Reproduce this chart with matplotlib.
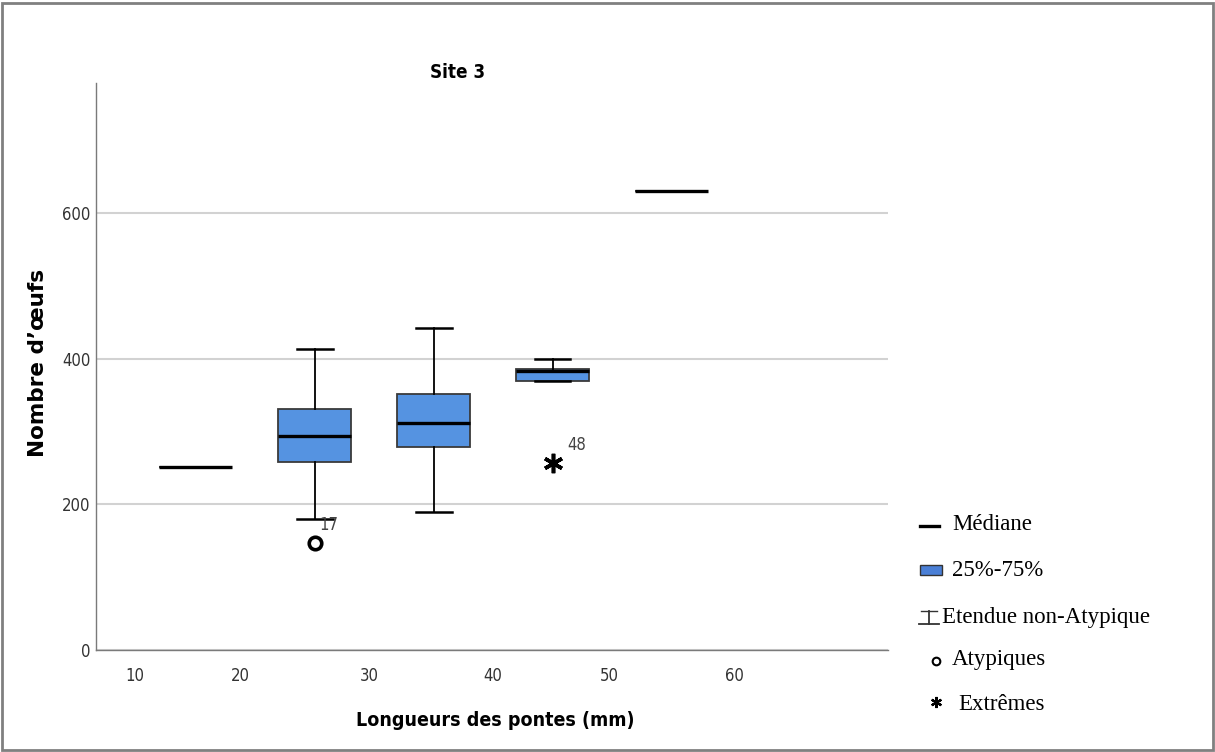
import matplotlib
matplotlib.use("Agg")
import matplotlib.pyplot as plt
from matplotlib.lines import Line2D
from matplotlib.patches import Rectangle
from matplotlib import font_manager

# Egg counts per clutch-length class (Site 3)
positions = [1, 2, 3, 4, 5]
whisker_low = [252, 180, 190, 370, 630]
q1 = [252, 258, 279, 370, 630]
median = [252, 294, 312, 383, 630]
q3 = [252, 331, 352, 386, 630]
whisker_high = [252, 413, 442, 400, 630]

# Unusual values: (position, value, case label)
outliers = [(2, 147, "17")]
extremes = [(4, 257, "48")]

tick_pos = [0.49, 1.37, 2.46, 3.50, 4.48, 5.53]
tick_labels = ["10", "20", "30", "40", "50", "60"]
y_ticks = [0, 200, 400, 600]

BLUE = "#5593e1"


def narrow(size, bold=False):
    return font_manager.FontProperties(family="DejaVu Sans", stretch="condensed",
                                       size=size, weight="bold" if bold else "normal")


SERIF = ["Liberation Serif", "DejaVu Serif"]

fig = plt.figure(figsize=(12.15, 7.52), dpi=100)
ax = fig.add_axes([96 / 1215, 1 - 650 / 752, (888 - 96) / 1215, (650 - 83) / 752])

stats = []
for i in range(len(positions)):
    stats.append(dict(med=median[i], q1=q1[i], q3=q3[i],
                      whislo=whisker_low[i], whishi=whisker_high[i], fliers=[]))

ax.bxp(stats, positions=positions, widths=0.615, patch_artist=True,
       showfliers=False, capwidths=0.3,
       boxprops=dict(facecolor=BLUE, edgecolor="#3a3a3a", linewidth=1.3),
       medianprops=dict(color="black", linewidth=2.4, solid_capstyle="butt"),
       whiskerprops=dict(color="black", linewidth=1.3),
       capprops=dict(color="black", linewidth=1.8), zorder=3)

for p, v, lab in outliers:
    ax.plot(p, v, marker="o", ms=9, mfc="white", mec="black", mew=2.6, zorder=4)
    ax.text(p + 0.04, v + 12, lab, fontproperties=narrow(12), color="#444444",
            ha="left", va="bottom")
for p, v, lab in extremes:
    ax.plot(p, v, marker=(6, 2, 0), ms=14, color="black", mew=2.6, zorder=4)
    ax.text(p + 0.12, v + 12, lab, fontproperties=narrow(12), color="#444444",
            ha="left", va="bottom")

ax.set_xlim(0.16, 6.82)
ax.set_ylim(0, 779)
ax.set_yticks(y_ticks)
ax.set_yticklabels([str(t) for t in y_ticks], fontproperties=narrow(12), color="#333333")
ax.set_xticks(tick_pos)
ax.set_xticklabels(tick_labels, fontproperties=narrow(12), color="#333333")
ax.tick_params(length=0, axis="y", pad=4)
ax.tick_params(length=0, axis="x", pad=12)
ax.yaxis.grid(True, color="#d2d2d2", linewidth=1.5, zorder=0)
ax.set_axisbelow(True)
for s in ["top", "right"]:
    ax.spines[s].set_visible(False)
for s in ["left", "bottom"]:
    ax.spines[s].set_color("#7a7a7a")
    ax.spines[s].set_linewidth(1.0)

fig.text(458 / 1215, 1 - 72 / 752, "Site 3", ha="center", va="center",
         fontproperties=narrow(13.5, bold=True))
fig.text(495 / 1215, 1 - 720 / 752, "Longueurs des pontes (mm)", ha="center",
         va="center", fontproperties=narrow(14, bold=True))
fig.text(38 / 1215, 1 - 363 / 752, "Nombre d’œufs", ha="center", va="center",
         rotation=90, fontsize=15.5, fontweight="bold", family="DejaVu Sans")


# Legend drawn in figure pixel space
def fx(x):
    return x / 1215


def fy(y):
    return 1 - y / 752


fig.add_artist(Line2D([fx(920), fx(939)], [fy(526), fy(526)], color="black", lw=2.4))
fig.add_artist(Rectangle((fx(920), fy(575)), 22 / 1215, 10 / 752,
                         facecolor="#4a7fd6", edgecolor="#333333", lw=1.0))
fig.add_artist(Line2D([fx(919), fx(939)], [fy(624), fy(624)], color="#333333", lw=1.3))
fig.add_artist(Line2D([fx(929), fx(929)], [fy(611), fy(624)], color="#333333", lw=1.3))
fig.add_artist(Line2D([fx(921), fx(937)], [fy(611), fy(611)], color="#333333", lw=1.0))
fig.add_artist(Line2D([fx(936)], [fy(661)], marker="o", ms=5.5, mfc="white",
                      mec="black", mew=1.5))
fig.add_artist(Line2D([fx(936)], [fy(702)], marker=(6, 2, 0), ms=8, color="black", mew=1.6))

leg_items = [(952, 524, "Médiane"), (952, 570, "25%-75%"),
             (942, 617, "Etendue non-Atypique"), (952, 660, "Atypiques"),
             (958, 704, "Extrêmes")]
for x, y, t in leg_items:
    fig.text(fx(x), fy(y), t, ha="left", va="center", fontsize=16.5,
             family=SERIF, color="black")

# Outer frame
fig.add_artist(Rectangle((0.002, 0.002), 0.996, 0.994, transform=fig.transFigure,
                         fill=False, edgecolor="#808080", lw=2.0))

fig.savefig("out.png", dpi=100)
